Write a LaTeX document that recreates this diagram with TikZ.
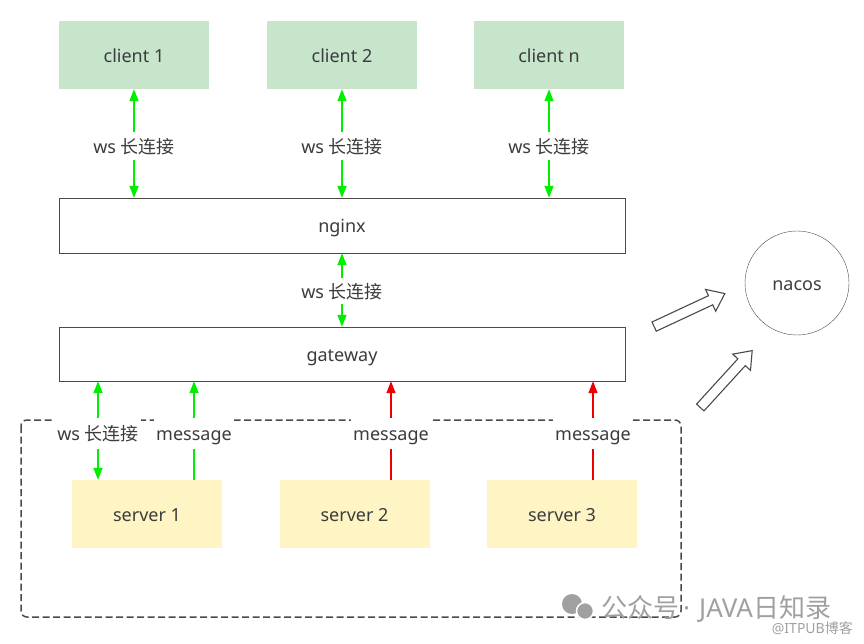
\documentclass[tikz,border=0pt]{standalone}
\usepackage{fontspec}
\setmainfont{Noto Sans}
\newfontfamily\cjk{Noto Sans CJK SC}
\usetikzlibrary{arrows.meta}
\usetikzlibrary{shapes.arrows}
\definecolor{clientgreen}{HTML}{C6E5CB}
\definecolor{serveryellow}{HTML}{FFF5C4}
\definecolor{wsgreen}{HTML}{00EE00}
\definecolor{msgred}{HTML}{EE0000}
\definecolor{txtgray}{HTML}{3C3C3C}
\definecolor{boxgray}{HTML}{4A4A4A}
\definecolor{markgray}{HTML}{A0A0A0}
\tikzset{>={Triangle[length=12pt,width=9pt]}, line width=1.3pt}
\tikzset{
  every node/.style={text=txtgray, font=\fontsize{18}{20}\selectfont,
    text height=16pt, text depth=2pt},
  client/.style={fill=clientgreen, minimum width=150pt, minimum height=68pt},
  server/.style={fill=serveryellow, minimum width=150pt, minimum height=68pt},
  bar/.style={draw=boxgray, fill=white, minimum width=566pt, minimum height=55pt},
  lbl/.style={fill=white, inner xsep=2pt, inner ysep=5pt},
  link/.style={line width=1.6pt},
  hollow/.style={single arrow, draw=boxgray, line width=1.1pt, fill=white,
    inner xsep=0pt, inner ysep=4.5pt, single arrow head extend=7pt,
    single arrow tip angle=75, single arrow head indent=0pt,
    text height=0pt, text depth=0pt},
}
\newcommand{\wslabel}{ws {\cjk 长连接}}

\begin{document}
\begin{tikzpicture}[x=1pt,y=-1pt]
  \useasboundingbox (0,0) rectangle (864,643);

  % clients
  \node[client] (c1) at (134,55) {client 1};
  \node[client] (c2) at (342,55) {client 2};
  \node[client] (cn) at (549,55) {client n};

  % nginx and gateway
  \node[bar] (ngx) at (342,225.5) {nginx};
  \node[bar,minimum height=54pt] (gw) at (342,354) {gateway};

  % registry
  \node[circle,draw=boxgray,minimum size=104pt] (nacos) at (797,283) {nacos};
  \node[hollow,minimum height=78pt,rotate=25] (reg1) at (686.5,311.5) {};
  \node[hollow,minimum height=77pt,rotate=47.6] (reg2) at (724,381.5) {};

  % server group
  \draw[boxgray,line width=1.5pt,dash pattern=on 7pt off 3.5pt,rounded corners=6pt]
    (21,420) rectangle (681,617);
  \node[server] (s1) at (147,514) {server 1};
  \node[server] (s2) at (354.5,514) {server 2};
  \node[server] (s3) at (562,514) {server 3};

  % anchor points of the server links
  \coordinate (s1ws) at ([xshift=-49pt]s1.north);
  \coordinate (s1msg) at ([xshift=47pt]s1.north);
  \coordinate (s2msg) at ([xshift=36.5pt]s2.north);
  \coordinate (s3msg) at ([xshift=31pt]s3.north);

  % ws links
  \draw[link,<->,draw=wsgreen] (c1.south) -- (c1.south |- ngx.north);
  \draw[link,<->,draw=wsgreen] (c2.south) -- (c2.south |- ngx.north);
  \draw[link,<->,draw=wsgreen] (cn.south) -- (cn.south |- ngx.north);
  \draw[link,<->,draw=wsgreen] (ngx.south) -- (gw.north);
  \draw[link,<->,draw=wsgreen] (s1ws) -- (s1ws |- gw.south);

  % messages
  \draw[link,->,draw=wsgreen] (s1msg) -- (s1msg |- gw.south);
  \draw[link,->,draw=msgred] (s2msg) -- (s2msg |- gw.south);
  \draw[link,->,draw=msgred] (s3msg) -- (s3msg |- gw.south);

  % labels
  \path (c1.south) -- node[lbl,pos=0.527] (l1) {\wslabel} (c1.south |- ngx.north);
  \path (c2.south) -- node[lbl,pos=0.527] (l2) {\wslabel} (c2.south |- ngx.north);
  \path (cn.south) -- node[lbl,pos=0.527] (ln) {\wslabel} (cn.south |- ngx.north);
  \path (ngx.south) -- node[lbl,inner ysep=4pt,pos=0.52] (lgw) {\wslabel} (gw.north);
  \path (s1ws) -- node[lbl,inner ysep=6.5pt,pos=0.47] (ls1) {\wslabel} (s1ws |- gw.south);
  \path (s1msg) -- node[lbl,inner ysep=6.5pt,pos=0.47] (m1) {message} (s1msg |- gw.south);
  \path (s2msg) -- node[lbl,inner ysep=6.5pt,pos=0.47] (m2) {message} (s2msg |- gw.south);
  \path (s3msg) -- node[lbl,inner ysep=6.5pt,pos=0.47] (m3) {message} (s3msg |- gw.south);

  % watermark
  \fill[markgray] (572,604) circle (10);
  \fill[markgray,draw=white,line width=1.5pt] (585,611) circle (8.5);
  \node[anchor=base west,text=markgray,font=\fontsize{26}{28}\selectfont,
    inner sep=0pt,text height=,text depth=]
    (mark) at (601,617) {{\cjk 公众号}\hspace{4pt}·\hspace{9pt}JAVA{\cjk 日知录}};
  \node[anchor=base east,text=markgray,font=\fontsize{14}{16}\selectfont,
    inner sep=0pt,text height=,text depth=]
    (site) at (853,633) {@ITPUB{\cjk 博客}};
\end{tikzpicture}
\end{document}
